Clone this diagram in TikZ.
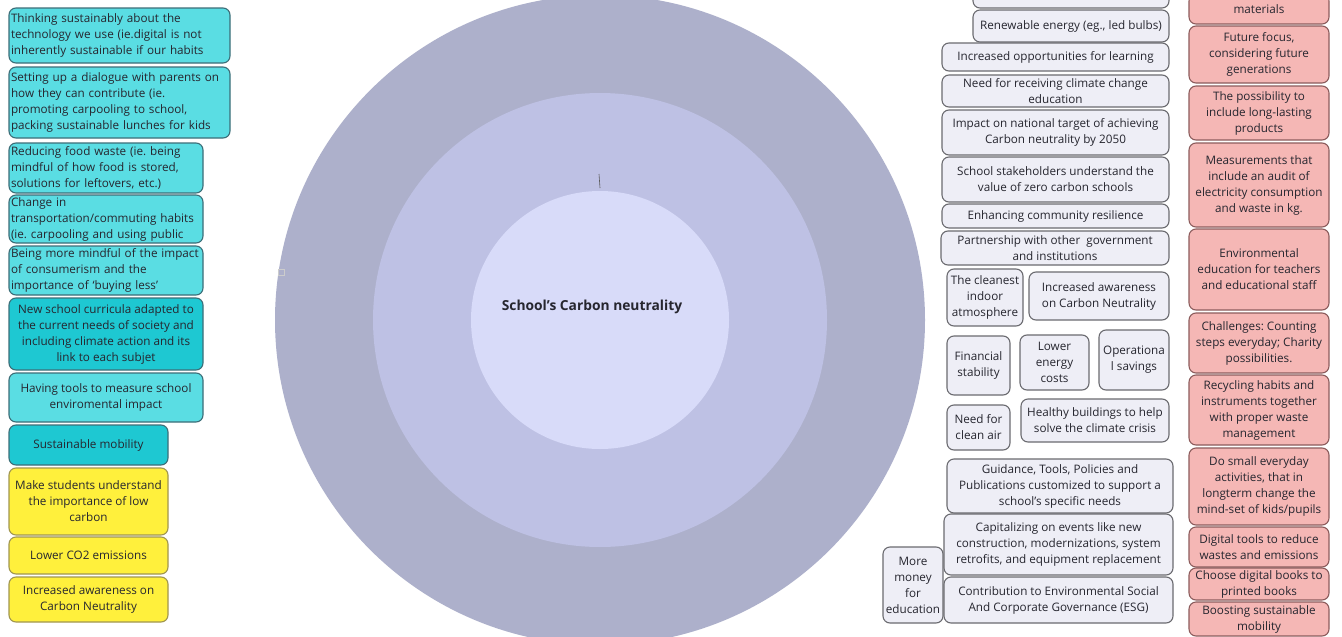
\documentclass[tikz,border=0pt]{standalone}
\usepackage{fontspec}
\setmainfont{Open Sans}
\frenchspacing
\definecolor{tealL}{HTML}{5ADDE3}
\definecolor{tealD}{HTML}{1EC8D2}
\definecolor{tealB}{HTML}{3C6E78}
\definecolor{yel}{HTML}{FFF03C}
\definecolor{yelB}{HTML}{A09650}
\definecolor{gryF}{HTML}{EEEEF6}
\definecolor{gryB}{HTML}{6B6B70}
\definecolor{redF}{HTML}{F5B7B5}
\definecolor{redB}{HTML}{8C5C5C}
\definecolor{ringA}{HTML}{ADB0CB}
\definecolor{ringB}{HTML}{BEC1E4}
\definecolor{ringC}{HTML}{D8DBF9}
\definecolor{txt}{HTML}{26262F}
\tikzset{
  basebox/.style={rounded corners=7pt, line width=1.1pt, inner xsep=3pt, inner ysep=0pt,
    font=\fontsize{11.7}{16}\selectfont, text=txt},
  tealbox/.style={basebox, draw=tealB, fill=tealL},
  tealdark/.style={basebox, draw=tealB, fill=tealD},
  yelbox/.style={basebox, draw=yelB, fill=yel, align=center},
  greybox/.style={basebox, draw=gryB, fill=gryF, align=center},
  redbox/.style={basebox, draw=redB, fill=redF, align=center},
}
\newcommand\bx[7][]{%
  \pgfmathsetmacro\bxw{#5-#3}\pgfmathsetmacro\bxh{#6-#4}%
  \node[#1, minimum width=\bxw pt, minimum height=\bxh pt] (#2) at ({(#3+#5)/2},{(#4+#6)/2}) {#7};}
\newcommand\lbx[7][]{%
  \pgfmathsetmacro\bxw{#5-#3}\pgfmathsetmacro\bxh{#6-#4}\pgfmathsetmacro\bxt{#5-#3-4}%
  \node[#1, minimum width=\bxw pt, minimum height=\bxh pt, text width=\bxt pt, inner xsep=2pt] (#2) at ({(#3+#5)/2},{(#4+#6)/2})
    {\begin{tabular}{@{}l@{}}#7\end{tabular}};}
\begin{document}
\begin{tikzpicture}[x=1pt,y=-1pt]
\useasboundingbox (0,0) rectangle (1342,637);
\clip (0,0) rectangle (1342,637);
\fill[white] (0,0) rectangle (1342,637);
% rings
\node[circle, fill=ringA, minimum size=650pt, inner sep=0pt] (outer) at (600,320) {};
\node[circle, fill=ringB, minimum size=454pt, inner sep=0pt] (middle) at (600,320) {};
\node[circle, fill=ringC, minimum size=258pt, inner sep=0pt] (inner) at (600,320) {};
\node[font=\bfseries\fontsize{13.8}{16}\selectfont, text=txt] (title) at (592,307) {School's Carbon neutrality};
\coordinate (tickA) at (599,174);
\coordinate (tickB) at (600,188);
\draw[gray!70!black, line width=0.6pt] (tickA) -- (tickB);
\node[draw=gray!40, line width=0.5pt, minimum size=6pt, inner sep=0pt] (sq) at (281,272) {};
% left column
\lbx[tealbox, align=left]{t1}{9}{8}{230}{63}{Thinking sustainably about the\\technology we use (ie.digital is not\\inherently sustainable if our habits}
\lbx[tealbox, align=left]{t2}{9}{67}{230}{138}{Setting up a dialogue with parents on\\how they can contribute (ie.\\promoting carpooling to school,\\packing sustainable lunches for kids}
\lbx[tealbox, align=left]{t3}{9}{143}{203}{193}{Reducing food waste (ie. being\\mindful of how food is stored,\\solutions for leftovers, etc.)}
\lbx[tealbox, align=left]{t4}{9}{195}{203}{243}{Change in\\transportation/commuting habits\\(ie. carpooling and using public}
\lbx[tealbox, align=left]{t5}{9}{246}{203}{295}{Being more mindful of the impact\\of consumerism and the\\importance of `buying less'}
\bx[tealdark, align=center]{t6}{9}{298}{203}{370}{New school curricula adapted to\\the current needs of society and\\including climate action and its\\link to each subjet}
\bx[tealbox, align=center]{t7}{9}{373}{203}{422}{Having tools to measure school\\enviromental impact}
\bx[tealdark, align=center]{t8}{9}{425}{168}{465}{Sustainable mobility}
\bx[yelbox]{y1}{9}{468}{168}{535}{Make students understand\\the importance of low\\carbon}
\bx[yelbox]{y2}{9}{537}{168}{574}{Lower CO2 emissions}
\bx[yelbox]{y3}{9}{577}{168}{622}{Increased awareness on\\Carbon Neutrality}
% grey column
\bx[greybox]{g0}{973}{-20}{1169}{8}{}
\bx[greybox]{g1}{973}{10}{1169}{42}{Renewable energy (eg., led bulbs)}
\bx[greybox]{g2}{942}{43}{1169}{71}{Increased opportunities for learning}
\bx[greybox]{g3}{942}{75}{1169}{107}{Need for receiving climate change\\education}
\bx[greybox]{g4}{942}{110}{1169}{155}{Impact on national target of achieving\\Carbon neutrality by 2050}
\bx[greybox]{g5}{942}{157}{1169}{202}{School stakeholders understand the\\value of zero carbon schools}
\bx[greybox]{g6}{942}{204}{1169}{228}{Enhancing community resilience}
\bx[greybox]{g7}{941}{231}{1169}{265}{Partnership with other\ \ government\\and institutions}
\bx[greybox, inner xsep=1pt]{g8}{947}{269}{1023}{326}{The cleanest\\indoor\\atmosphere}
\bx[greybox]{g9}{1029}{272}{1169}{320}{Increased awareness\\on Carbon Neutrality}
\bx[greybox]{g10}{947}{336}{1010}{395}{Financial\\stability}
\bx[greybox]{g11}{1020}{335}{1089}{390}{Lower\\energy\\costs}
\bx[greybox, inner xsep=1pt]{g12}{1099}{330}{1169}{390}{Operationa\\l savings}
\bx[greybox]{g13}{947}{405}{1010}{450}{Need for\\clean air}
\bx[greybox]{g14}{1021}{399}{1169}{442}{Healthy buildings to help\\solve the climate crisis}
\bx[greybox]{g15}{947}{459}{1173}{513}{Guidance, Tools, Policies and\\Publications customized to support a\\school's specific needs}
\bx[greybox]{g16}{944}{514}{1173}{575}{Capitalizing on events like new\\construction, modernizations, system\\retrofits, and equipment replacement}
\bx[greybox]{g17}{944}{577}{1173}{623}{Contribution to Environmental Social\\And Corporate Governance (ESG)}
\bx[greybox, inner xsep=1pt]{g18}{883}{547}{943}{623}{More\\money\\for\\education}
% red column
\bx[redbox]{r0}{1189}{-6}{1329}{24}{materials}
\bx[redbox]{r1}{1189}{26}{1329}{83}{Future focus,\\considering future\\generations}
\bx[redbox]{r2}{1189}{86}{1329}{140}{The possibility to\\include long-lasting\\products}
\bx[redbox]{r3}{1189}{143}{1329}{227}{Measurements that\\include an audit of\\electricity consumption\\and waste in kg.}
\bx[redbox]{r4}{1189}{229}{1329}{310}{Environmental\\education for teachers\\and educational staff}
\bx[redbox]{r5}{1189}{313}{1329}{373}{Challenges: Counting\\steps everyday; Charity\\possibilities.}
\bx[redbox]{r6}{1189}{375}{1329}{445}{Recycling habits and\\instruments together\\with proper waste\\management}
\bx[redbox]{r7}{1189}{448}{1329}{525}{Do small everyday\\activities, that in\\longterm change the\\mind-set of kids/pupils}
\bx[redbox]{r8}{1189}{527}{1329}{567}{Digital tools to reduce\\wastes and emissions}
\bx[redbox]{r9}{1189}{568}{1329}{600}{Choose digital books to\\printed books}
\bx[redbox]{r10}{1189}{602}{1329}{636}{Boosting sustainable\\mobility}
\end{tikzpicture}
\end{document}
